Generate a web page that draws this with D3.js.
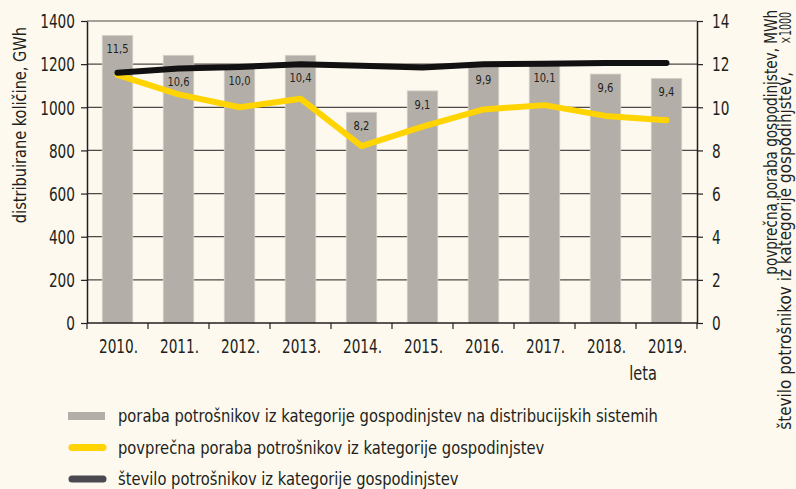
<!DOCTYPE html>
<html>
<head>
<meta charset="utf-8">
<script src="https://cdn.jsdelivr.net/npm/d3@7"></script>
<style>
  body { margin: 0; background: #fdf9ef; }
  svg { display: block; font-family: "DejaVu Sans Condensed", "DejaVu Sans", sans-serif; }
  text { fill: #231f20; }
</style>
</head>
<body>
<svg width="796" height="489"></svg>
<script>
// leta
const years = ["2010.", "2011.", "2012.", "2013.", "2014.", "2015.", "2016.", "2017.", "2018.", "2019."];
// poraba na distribucijskih sistemih, GWh
const consumption = [1333, 1241, 1195, 1241, 977, 1076, 1190, 1205, 1154, 1134];
// povprecna poraba, MWh
const avgUse = [11.5, 10.6, 10.0, 10.4, 8.2, 9.1, 9.9, 10.1, 9.6, 9.4];
const avgLabels = ["11,5", "10,6", "10,0", "10,4", "8,2", "9,1", "9,9", "10,1", "9,6", "9,4"];
// stevilo potrosnikov (na desni osi)
const customers = [11.6, 11.8, 11.87, 12.0, 11.93, 11.84, 12.0, 12.02, 12.05, 12.05];
const leftTicks = [0, 200, 400, 600, 800, 1000, 1200, 1400];
const rightTicks = [0, 2, 4, 6, 8, 10, 12, 14];

const legendItems = [
    {label: "poraba potrošnikov iz kategorije gospodinjstev na distribucijskih sistemih", type: "bar"},
    {label: "povprečna poraba potrošnikov iz kategorije gospodinjstev", type: "avg"},
    {label: "število potrošnikov iz kategorije gospodinjstev", type: "cust"}
];

let svg = d3.select("svg"),
    pLeft = 87, pRight = 697, pTop = 21, pBottom = 323;

// tekst stisnjen v sirino (pisava v izvirniku je ozka)
function squeeze(sel, k) {
    sel.each(function () {
        let t = d3.select(this);
        let tx = +t.attr("x") || 0, ty = +t.attr("y") || 0;
        let rot = t.attr("data-rot") || 0;
        t.attr("x", 0).attr("y", 0)
            .attr("transform", `translate(${tx},${ty}) rotate(${rot}) scale(${k},1)`);
    });
}

let x = d3.scaleBand().domain(years).range([pLeft, pRight]).paddingInner(0.5).paddingOuter(0.25);
let yL = d3.scaleLinear().domain([0, 1400]).range([pBottom, pTop]);
let yR = d3.scaleLinear().domain([0, 14]).range([pBottom, pTop]);
let cx = d => x(d) + x.bandwidth() / 2;
let gap = (x.step() - x.bandwidth()) / 2;

// mreza
svg.append("g").selectAll("line")
    .data(leftTicks.filter(d => d > 0))
    .enter().append("line")
    .attr("x1", pLeft).attr("x2", pRight)
    .attr("y1", d => yL(d)).attr("y2", d => yL(d))
    .attr("stroke", "#4d4a48").attr("stroke-width", 1.2);

// stolpci
svg.append("g").selectAll("rect")
    .data(consumption)
    .enter().append("rect")
    .attr("x", (d, i) => x(years[i]))
    .attr("width", x.bandwidth())
    .attr("y", d => yL(d))
    .attr("height", d => pBottom - yL(d))
    .attr("fill", "#b3aea7")
    .attr("stroke", "#d6d1c8").attr("stroke-width", 0.8);

// osi
let axisL = svg.append("g").attr("transform", `translate(${pLeft},0)`)
    .call(d3.axisLeft(yL).tickValues(leftTicks).tickFormat(d3.format("d"))
        .tickSize(6).tickSizeOuter(0).tickPadding(6));
let axisR = svg.append("g").attr("transform", `translate(${pRight},0)`)
    .call(d3.axisRight(yR).tickValues(rightTicks).tickFormat(d3.format("d"))
        .tickSize(6).tickSizeOuter(0).tickPadding(9));
[axisL, axisR].forEach(a => {
    a.attr("font-family", null).attr("font-size", null);
    a.select(".domain").attr("stroke", "#231f20").attr("stroke-width", 1.5);
    a.selectAll(".tick line").attr("stroke", "#231f20").attr("stroke-width", 1.2);
    a.selectAll("text").attr("font-size", 19).attr("fill", "#231f20").attr("dy", "0.36em");
    squeeze(a.selectAll("text"), 0.8);
});

// spodnja os
svg.append("line")
    .attr("x1", pLeft).attr("x2", pRight).attr("y1", pBottom).attr("y2", pBottom)
    .attr("stroke", "#231f20").attr("stroke-width", 1.5);
let bounds = years.map(d => x(d) - gap).concat([pRight]);
svg.append("g").selectAll("line")
    .data(bounds)
    .enter().append("line")
    .attr("x1", d => d).attr("x2", d => d)
    .attr("y1", pBottom).attr("y2", pBottom + 6)
    .attr("stroke", "#231f20").attr("stroke-width", 1.2);
svg.append("g").selectAll("text")
    .data(years)
    .enter().append("text")
    .attr("x", d => cx(d) + 1)
    .attr("y", 353)
    .attr("text-anchor", "middle")
    .attr("font-size", 19)
    .text(d => d)
    .call(squeeze, 0.8);

svg.append("text").attr("x", 643).attr("y", 380).attr("text-anchor", "middle")
    .attr("font-size", 19).text("leta").call(squeeze, 0.85);

// crte
let lineR = d3.line().x((d, i) => cx(years[i])).y(d => yR(d));
svg.append("path")
    .datum(avgUse)
    .attr("d", lineR)
    .attr("fill", "none").attr("stroke", "#ffd400").attr("stroke-width", 6)
    .attr("stroke-linecap", "round").attr("stroke-linejoin", "round");
svg.append("path")
    .datum(customers)
    .attr("d", lineR)
    .attr("fill", "none").attr("stroke", "#111").attr("stroke-width", 6)
    .attr("stroke-linecap", "round").attr("stroke-linejoin", "round");

// oznake na stolpcih
svg.append("g").selectAll("text")
    .data(avgLabels)
    .enter().append("text")
    .attr("x", (d, i) => cx(years[i]))
    .attr("y", function (d, i) {
        let barTop = yL(consumption[i]), lineY = yR(customers[i]);
        let ref = (lineY - barTop > 25) ? barTop : Math.max(barTop, lineY);
        return ref + 18;
    })
    .attr("text-anchor", "middle")
    .attr("font-size", 13)
    .text(d => d)
    .call(squeeze, 0.85);

// naslovi osi
svg.append("text")
    .attr("x", 26).attr("y", 27).attr("data-rot", -90)
    .attr("text-anchor", "end")
    .attr("font-size", 18)
    .text("distribuirane količine, GWh")
    .call(squeeze, 0.9);

// navpicni naslov, stisnjen na dano dolzino
function vTitle(txt, bx, yEnd, len, size) {
    let t = svg.append("text")
        .attr("x", bx).attr("y", yEnd).attr("data-rot", -90)
        .attr("text-anchor", "end")
        .attr("font-size", size)
        .text(txt);
    let w = t.node().getComputedTextLength();
    t.call(squeeze, len / w);
}
vTitle("povprečna poraba gospodinjstev, MWh", 777, 10, 265, 17);
vTitle("število potrošnikov iz kategorije gospodinjstev,", 791, 72, 358, 17);
vTitle("×1000", 791, 12, 32, 16);

// legenda
let legend = svg.append("g").selectAll("g")
    .data(legendItems)
    .enter().append("g")
    .attr("transform", (d, i) => `translate(0,${416 + i * 31.5})`);
legend.each(function (d) {
    let g = d3.select(this);
    if (d.type === "bar") {
        g.append("rect").attr("x", 68).attr("y", -4).attr("width", 37).attr("height", 8).attr("fill", "#b3aea7");
    } else {
        g.append("line").attr("x1", 72).attr("x2", 103).attr("y1", 0).attr("y2", 0)
            .attr("stroke", d.type === "avg" ? "#ffd400" : "#4a4950")
            .attr("stroke-width", 7).attr("stroke-linecap", "round");
    }
    g.append("text").attr("x", 118).attr("y", 6).attr("font-size", 18).text(d.label)
        .call(squeeze, 0.91);
});
</script>
</body>
</html>
